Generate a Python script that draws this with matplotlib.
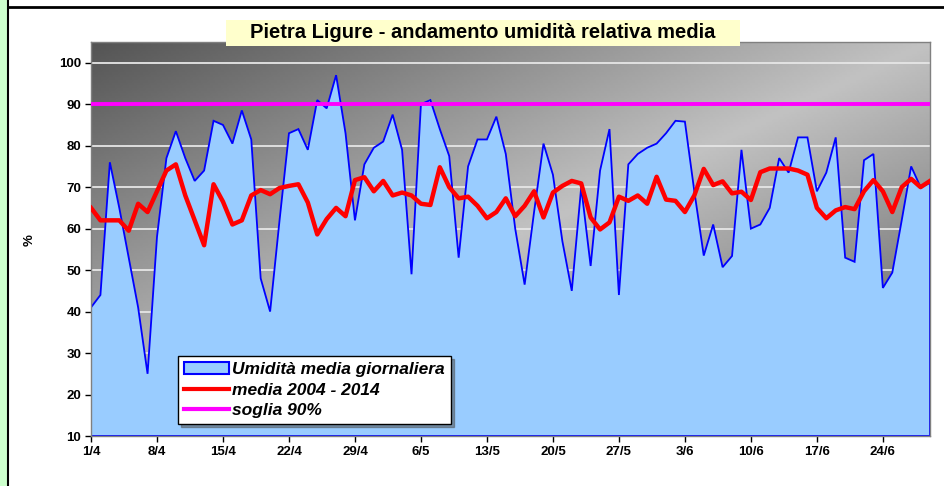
import numpy as np
import matplotlib
matplotlib.use("Agg")
import matplotlib.pyplot as plt
from matplotlib.patches import Rectangle, Patch
from matplotlib.lines import Line2D

# daily values 1/4 .. 29/6
umidita = [41, 44, 76, 65, 53, 41, 25, 58, 77, 83.5, 77, 71.5, 74, 86, 85,
           80.5, 88.5, 81.5, 48, 40, 62, 83, 84, 79, 91, 89, 97, 83, 62, 75.5,
           79.5, 81, 87.5, 79, 49, 90, 91, 84, 77.5, 53, 75, 81.5, 81.5, 87, 78,
           60, 46.5, 64, 80.5, 73, 57, 45, 70, 51, 74, 84, 44, 75.5, 78, 79.5,
           80.5, 83, 86, 85.8, 69, 53.5, 61, 50.7, 53.4, 79, 60, 61, 65, 77, 73.5,
           82, 82, 69, 73.5, 82, 53, 52, 76.5, 78, 45.7, 49.4, 62, 75, 70, 71]
media = [65, 62, 62, 62, 59.5, 66, 64, 69, 74, 75.5, 68, 62, 56, 70.7, 66.5,
         61, 62, 68, 69.3, 68.3, 69.8, 70.3, 70.7, 66.3, 58.6, 62.3, 65, 63, 71.7, 72.4,
         69, 71.5, 68, 68.7, 68, 66, 65.7, 74.8, 70, 67.3, 67.7, 65.5, 62.5, 64, 67.3,
         63, 65.5, 69, 62.7, 68.7, 70.3, 71.5, 70.9, 62.7, 59.8, 61.5, 67.7, 66.7, 68, 66,
         72.5, 67, 66.7, 64, 68, 74.4, 70.5, 71.4, 68.5, 68.9, 66.9, 73.6, 74.5, 74.5, 74.5,
         74, 73, 65, 62.5, 64.4, 65.2, 64.7, 69, 71.7, 69, 64, 70, 72, 70, 71.5]
soglia = 90
tick_labels = ["1/4", "8/4", "15/4", "22/4", "29/4", "6/5", "13/5", "20/5",
               "27/5", "3/6", "10/6", "17/6", "24/6"]

FONT = ["Liberation Sans", "DejaVu Sans"]
plt.rcParams["font.family"] = FONT

x = np.arange(len(umidita))
y0, y1 = 10, 105

fig = plt.figure(figsize=(9.44, 4.86), dpi=100)
ax = fig.add_axes([91 / 944, 1 - 436 / 486, 839 / 944, 394 / 486])

# diagonal grey gradient of the plot area
gx, gy = np.meshgrid(np.linspace(0, 1, 300), np.linspace(0, 1, 150))
shade = 0.76 - 0.43 * np.abs(1 - (gx + gy))
ax.imshow(shade, cmap="gray", vmin=0, vmax=1, origin="upper",
          extent=[x[0], x[-1], y0, y1], aspect="auto", zorder=0)

for v in range(20, 101, 10):
    ax.axhline(v, color="#e6e6e6", lw=1.3, zorder=1)

ax.fill(np.r_[x, x[-1], x[0]], np.r_[umidita, y0, y0], facecolor="#99CCFF",
        edgecolor="#0000FF", lw=1.3, zorder=2)
ax.plot(x, media, color="#FF0000", lw=3.2, zorder=4, solid_joinstyle="round")
ax.axhline(soglia, color="#FF00FF", lw=2.8, zorder=3)

ax.set_xlim(x[0], x[-1])
ax.set_ylim(y0, y1)
ax.set_yticks(range(10, 101, 10))
ax.set_xticks(x[::7][:len(tick_labels)])
ax.set_xticklabels(tick_labels)
ax.tick_params(axis="both", length=4, width=1, color="black", labelsize=9.5, pad=3)
for lab in ax.get_xticklabels() + ax.get_yticklabels():
    lab.set_fontweight("bold")
for sp in ax.spines.values():
    sp.set_color("#808080")
    sp.set_linewidth(1)

handles = [Patch(facecolor="#99CCFF", edgecolor="#0000FF", lw=1.5),
           Line2D([], [], color="#FF0000", lw=3),
           Line2D([], [], color="#FF00FF", lw=3)]
labels = ["Umidità media giornaliera", "media 2004 - 2014", "soglia 90%"]
leg = ax.legend(handles, labels, loc="lower left", bbox_to_anchor=(0.104, 0.03),
                prop=dict(family=FONT, weight="bold", style="italic", size=12.5),
                fancybox=False, shadow=True, framealpha=1, edgecolor="black",
                handlelength=2.6, handletextpad=0.15, labelspacing=0.3,
                borderpad=0.35, borderaxespad=0)
leg.set_zorder(6)
leg.get_frame().set_linewidth(1)

fig.text(30 / 944, 1 - 240 / 486, "%", rotation=90, ha="center", va="center",
         fontsize=9.5, fontweight="bold")

# title in a pale yellow box
fig.patches.append(Rectangle((226 / 944, 1 - 46 / 486), 514 / 944, 26 / 486,
                             transform=fig.transFigure, facecolor="#FFFFCC",
                             edgecolor="none", zorder=5))
fig.text(483 / 944, 1 - 33 / 486, "Pietra Ligure - andamento umidità relativa media",
         ha="center", va="center", fontsize=14.5, fontweight="bold", zorder=6)

# page frame: green strip at left, black rule at top
fig.patches.append(Rectangle((0, 0), 7 / 944, 1, transform=fig.transFigure,
                             facecolor="#CCFFCC", edgecolor="none"))
fig.add_artist(Line2D([7.5 / 944, 7.5 / 944], [0, 1], color="black", lw=1.5,
                      transform=fig.transFigure))
fig.add_artist(Line2D([7.5 / 944, 1], [1 - 7 / 486, 1 - 7 / 486], color="black",
                      lw=2, transform=fig.transFigure))

fig.savefig("out.png", dpi=100)
